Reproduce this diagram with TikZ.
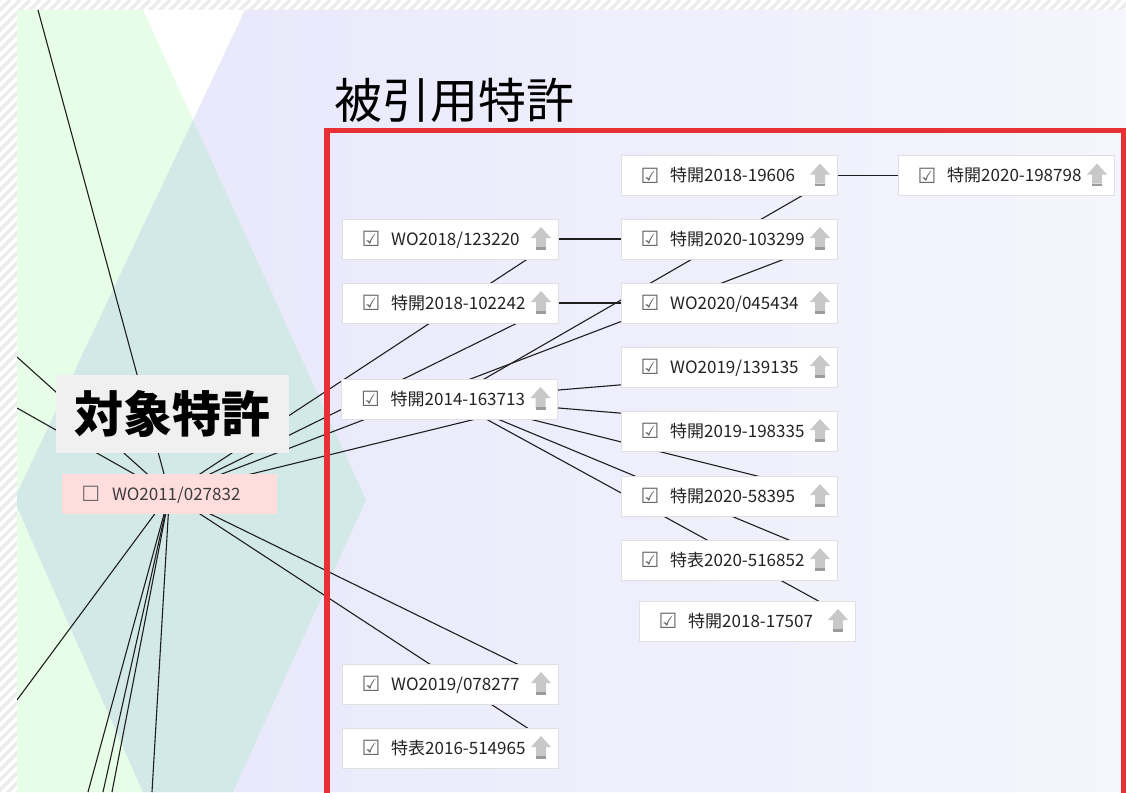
\documentclass[tikz,border=0pt]{standalone}
\usepackage{fontspec}
\newfontfamily\jp{Noto Sans CJK JP}
\newfontfamily\sym{DejaVu Sans}
\usetikzlibrary{calc}
\pgfdeclarelayer{bgl}
\pgfdeclarelayer{edges}
\pgfsetlayers{bgl,edges,main}

\definecolor{hatchc}{RGB}{236,236,236}
\definecolor{lav1}{RGB}{230,230,251}
\definecolor{lav2}{RGB}{245,245,253}
\definecolor{grn}{RGB}{232,253,232}
\definecolor{tealmix}{RGB}{211,233,231}
\definecolor{redbox}{RGB}{232,48,52}
\definecolor{boxline}{RGB}{224,224,224}
\definecolor{labelbg}{RGB}{240,240,240}
\definecolor{pinkbg}{RGB}{255,221,221}
\definecolor{edgec}{RGB}{30,30,30}
\definecolor{arrlight}{RGB}{200,200,200}
\definecolor{arrdark}{RGB}{155,155,155}
\definecolor{chkc}{RGB}{105,105,105}
\definecolor{txtc}{RGB}{35,35,35}

\tikzset{
  uparr/.pic={
    \fill[arrlight] (-10,-1) -- (0,-12) -- (10,-1) -- (5,-1) -- (5,8) -- (-5,8) -- (-5,-1) -- cycle;
    \fill[arrdark] (-5,8) rectangle (5,10.5);
  }
}

\newcommand\patnode[4]{%
  \node[pbox] (#1) at (#2,#3) {};
  \node[chk] at ($(#1.west)+(29,7.5)$) {☑};
  \node[ptxt] at ($(#1.west)+(49,6)$) {#4};
  \pic at ($(#1.east)+(-17,0)$) {uparr};
}

\begin{document}
\begin{tikzpicture}[x=1pt,y=-1pt,
  pbox/.style={draw=boxline, fill=white, line width=1pt, minimum width=216pt, minimum height=40pt, inner sep=0pt, outer sep=0pt},
  ptxt/.style={font=\jp\fontsize{17}{17}\selectfont, text=txtc, inner sep=0pt, anchor=base west},
  chk/.style={font=\sym\fontsize{21}{21}\selectfont, text=chkc, inner sep=0pt, anchor=base},
  lnk/.style={draw=edgec, line width=1.1pt},
]
\useasboundingbox (0,0) rectangle (1126,792);

% ---------- background ----------
\begin{pgfonlayer}{bgl}
  \fill[white] (0,0) rectangle (1126,792);
  \begin{scope}
    \clip (0,0) rectangle (1126,10) (0,0) rectangle (17,792);
    \foreach \k in {-800,-790,...,1130} \draw[hatchc, line width=3.5pt] (\k,800) -- (\k+800,0);
  \end{scope}
  \begin{scope}
    \clip (17,10) rectangle (1126,792);
    \fill[white] (17,10) rectangle (1126,792);
    \fill[grn] (17,10) -- (143,10) -- (366,500) -- (233,792) -- (17,792) -- cycle;
    \shade[left color=lav1, right color=lav2] (245,10) -- (1126,10) -- (1126,792) -- (143,792) -- (14,500) -- cycle;
    \begin{scope}
      \clip (17,10) -- (143,10) -- (366,500) -- (233,792) -- (17,792) -- cycle;
      \fill[tealmix] (245,10) -- (1126,10) -- (1126,792) -- (143,792) -- (14,500) -- cycle;
    \end{scope}
  \end{scope}
\end{pgfonlayer}

% ---------- title and red frame ----------
\node[anchor=west, inner sep=0pt, font=\jp\fontsize{48}{48}\selectfont, text=black] (title) at (334,100) {被引用特許};
\draw[redbox, line width=5.5pt] (327,130.5) rectangle (1123.5,796);

% ---------- target patent ----------
\node[fill=labelbg, minimum width=233pt, minimum height=78pt, inner sep=0pt, font=\jp\bfseries\fontsize{49}{49}\selectfont, text=black] (lbl) at (172.5,414) {対象特許};
\node[fill=pinkbg, minimum width=215pt, minimum height=40pt, inner sep=0pt] (P) at (169.5,494) {};
\node[chk] at ($(P.west)+(29,7.5)$) {☐};
\node[ptxt, text={rgb,255:red,60;green,60;blue,60}] at ($(P.west)+(50,6)$) {WO2011/027832};

% ---------- cited patents ----------
\patnode{s19606}{729}{175.5}{特開2018-19606}
\patnode{s198798}{1006}{175.5}{特開2020-198798}
\patnode{w123220}{450}{239}{WO2018/123220}
\patnode{s103299}{729}{239}{特開2020-103299}
\patnode{s102242}{450}{303}{特開2018-102242}
\patnode{w045434}{729}{303}{WO2020/045434}
\patnode{s163713}{449.5}{399}{特開2014-163713}
\patnode{w139135}{729}{367}{WO2019/139135}
\patnode{s198335}{729}{431}{特開2019-198335}
\patnode{s58395}{729}{496}{特開2020-58395}
\patnode{h516852}{729}{560}{特表2020-516852}
\patnode{s17507}{747}{621}{特開2018-17507}
\patnode{w078277}{450}{684}{WO2019/078277}
\patnode{h514965}{450}{748}{特表2016-514965}

% ---------- connectors ----------
\begin{pgfonlayer}{edges}
  \begin{scope}
    \clip (17,10) rectangle (1126,792);
    \coordinate (o1) at (38,10);
    \coordinate (o2) at (17,357);
    \coordinate (o3) at (17,408);
    \coordinate (o4) at (17,700);
    \coordinate (o5) at (88,792);
    \coordinate (o6) at (103,792);
    \coordinate (o7) at (112,792);
    \coordinate (o8) at (152,792);
    \foreach \o in {o1,o2,o3,o4,o5,o6,o7,o8} \draw[lnk] (P.center) -- (\o);
    \draw[lnk] (P.center) -- (w123220.east);
    \draw[lnk] (P.center) -- (s102242.east);
    \draw[lnk] (P.center) -- (s163713.east);
    \draw[lnk] (P.center) -- (s103299.east);
    \draw[lnk] (P.center) -- (w078277.east);
    \draw[lnk] (P.center) -- (h514965.east);
    \draw[lnk] (s163713.center) -- (s19606.east);
    \draw[lnk] (s163713.center) -- (w139135.east);
    \draw[lnk] (s163713.center) -- (s198335.east);
    \draw[lnk] (s163713.center) -- (s58395.east);
    \draw[lnk] (s163713.center) -- (h516852.east);
    \draw[lnk] (s163713.center) -- (s17507.east);
    \draw[lnk] (w123220.center) -- (s103299.east);
    \draw[lnk] (s102242.center) -- (w045434.east);
    \draw[lnk] (s19606.center) -- (s198798.east);
  \end{scope}
\end{pgfonlayer}
\end{tikzpicture}
\end{document}
